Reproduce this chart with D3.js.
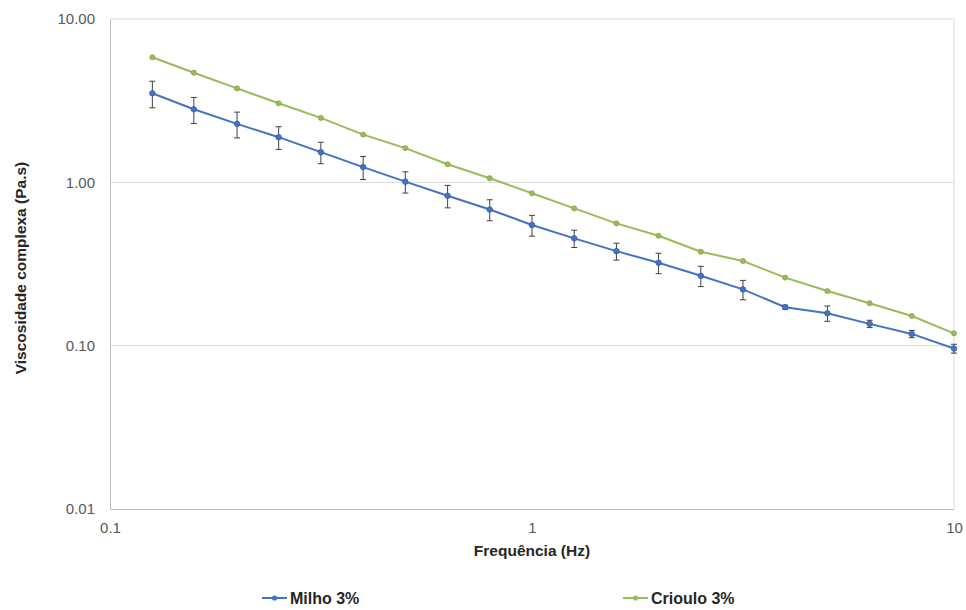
<!DOCTYPE html>
<html><head><meta charset="utf-8">
<script src="https://cdn.jsdelivr.net/npm/d3@7"></script>
<style>body{margin:0;background:#fff;font-family:"Liberation Sans",Arial,sans-serif;}</style>
</head><body>
<svg id="chart" width="966" height="610"></svg>
<script>
const freq = [0.126,0.158,0.2,0.251,0.316,0.398,0.501,0.631,0.794,1,1.259,1.585,1.995,2.512,3.162,3.981,5.012,6.31,7.943,10];
const milho = [3.51,2.80,2.28,1.89,1.53,1.24,1.01,0.828,0.682,0.548,0.454,0.379,0.322,0.268,0.221,0.172,0.158,0.136,0.118,0.096];
const milhoErr = [0.65,0.51,0.41,0.30,0.23,0.20,0.15,0.13,0.10,0.08,0.055,0.045,0.046,0.038,0.030,0.005,0.017,0.007,0.006,0.006];
const crioulo = [5.83,4.69,3.76,3.05,2.48,1.96,1.62,1.29,1.06,0.857,0.693,0.561,0.471,0.376,0.330,0.261,0.216,0.182,0.152,0.119];
const yTicks = [0.01,0.1,1,10];
const xTicks = [0.1,1,10];
const seriesNames = ["Milho 3%","Crioulo 3%"];
const colors = ["#4472C4","#9BBB59"];

const svg = d3.select("#chart");
const x = d3.scaleLog().domain([0.1,10]).range([110,954]);
const y = d3.scaleLog().domain([0.01,10]).range([509,19]);

// gridlines
svg.append("g").selectAll("line").data(yTicks.filter(d=>d>0.01)).join("line")
  .attr("x1",110).attr("x2",954).attr("y1",d=>y(d)).attr("y2",d=>y(d))
  .attr("stroke","#d9d9d9").attr("stroke-width",1);
// right border line
svg.append("line").attr("x1",954).attr("x2",954).attr("y1",19).attr("y2",509).attr("stroke","#d9d9d9");

// axes
const yAxis = d3.axisLeft(y).tickValues(yTicks).tickFormat(d3.format(".2f")).tickSize(0).tickPadding(15);
const gy = svg.append("g").attr("transform","translate(110,0)").call(yAxis);
gy.select(".domain").attr("stroke","#bfbfbf");
gy.selectAll("text").attr("font-size",15).attr("fill","#595959").attr("font-family","Liberation Sans, Arial, sans-serif");

const xAxis = d3.axisBottom(x).tickValues(xTicks).tickFormat(d=>String(d)).tickSize(0).tickPadding(13);
const gx = svg.append("g").attr("transform","translate(0,509)").call(xAxis);
gx.select(".domain").attr("stroke","#bfbfbf");
gx.selectAll("text").attr("font-size",15).attr("fill","#595959").attr("font-family","Liberation Sans, Arial, sans-serif");

// titles
svg.append("text").attr("x",532).attr("y",556).attr("text-anchor","middle")
  .attr("font-size",15.5).attr("font-weight","bold").attr("fill","#262626").text("Frequência (Hz)");
svg.append("text").attr("transform","translate(26,268) rotate(-90)").attr("text-anchor","middle")
  .attr("font-size",15.5).attr("font-weight","bold").attr("fill","#262626").text("Viscosidade complexa (Pa.s)");

const line = d3.line().x(d=>x(d[0])).y(d=>y(d[1]));
const dataM = freq.map((f,i)=>[f,milho[i],milhoErr[i]]);
const dataC = freq.map((f,i)=>[f,crioulo[i]]);

// Crioulo
svg.append("path").datum(dataC).attr("d",line).attr("fill","none").attr("stroke",colors[1]).attr("stroke-width",2);
svg.append("g").selectAll("circle").data(dataC).join("circle")
  .attr("cx",d=>x(d[0])).attr("cy",d=>y(d[1])).attr("r",2.6).attr("fill",colors[1]).attr("stroke","#7f9a45").attr("stroke-width",0.6);

// Milho
svg.append("path").datum(dataM).attr("d",line).attr("fill","none").attr("stroke",colors[0]).attr("stroke-width",2);
const eb = svg.append("g").attr("stroke","#404040").attr("stroke-width",1);
dataM.forEach(d=>{
  const cx = x(d[0]), y1 = y(d[1]+d[2]), y2 = y(d[1]-d[2]);
  eb.append("line").attr("x1",cx).attr("x2",cx).attr("y1",y1).attr("y2",y2);
  eb.append("line").attr("x1",cx-3).attr("x2",cx+3).attr("y1",y1).attr("y2",y1);
  eb.append("line").attr("x1",cx-3).attr("x2",cx+3).attr("y1",y2).attr("y2",y2);
});
svg.append("g").selectAll("circle").data(dataM).join("circle")
  .attr("cx",d=>x(d[0])).attr("cy",d=>y(d[1])).attr("r",2.8).attr("fill",colors[0]).attr("stroke","#2f528f").attr("stroke-width",0.6);

// legend
const legX = [262,623];
seriesNames.forEach((n,i)=>{
  const g = svg.append("g").attr("transform",`translate(${legX[i]},598)`);
  g.append("line").attr("x1",0).attr("x2",25).attr("y1",0).attr("y2",0).attr("stroke",colors[i]).attr("stroke-width",2);
  g.append("circle").attr("cx",12.5).attr("cy",0).attr("r",2.6).attr("fill",colors[i]);
  g.append("text").attr("x",28).attr("y",5.5).attr("font-size",16).attr("font-weight","bold").attr("fill","#262626").text(n);
});
</script>
</body></html>
